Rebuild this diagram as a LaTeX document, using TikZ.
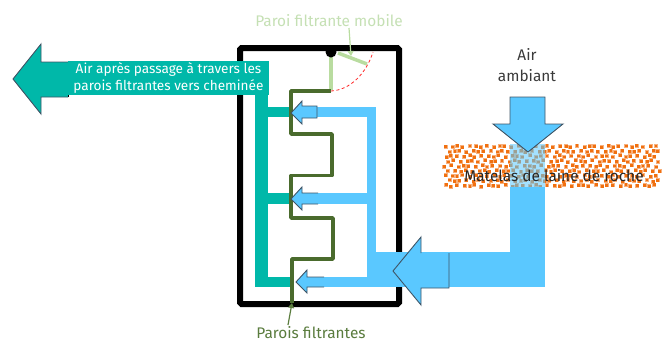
\documentclass[tikz,border=0pt]{standalone}
\usepackage{fontspec}
\setmainfont{Fira Sans}
\usetikzlibrary{arrows.meta}
\definecolor{tealc}{HTML}{00B8A9}
\definecolor{bluec}{HTML}{5AC8FF}
\definecolor{edgec}{HTML}{3F5566}
\definecolor{wallc}{HTML}{4A6B2D}
\definecolor{mobc}{HTML}{B9DCA0}
\definecolor{labg}{HTML}{C5E0B4}
\definecolor{labd}{HTML}{5A7C3E}
\definecolor{orangec}{HTML}{F07010}
\definecolor{textc}{HTML}{3A3A3A}
\tikzset{
  x=1pt,y=-1pt,
  txt/.style={font=\fontsize{15.4}{21}\selectfont,align=center,inner sep=0pt},
  flow/.style={fill=bluec,draw=none},
  tealflow/.style={fill=tealc,draw=none},
  edgeline/.style={draw=edgec,line width=0.9pt,line join=miter},
  wall/.style={draw=wallc,line width=3.4pt,line join=round},
  mob/.style={draw=mobc,line width=3.5pt},
}
\begin{document}
\begin{tikzpicture}
\useasboundingbox (0,0) rectangle (662,343);
% mattress
\foreach \r in {0,...,8}{
  \pgfmathsetmacro{\yy}{146.5+\r*4.9}
  \pgfmathsetmacro{\off}{mod(\r,2)*3}
  \foreach \c in {0,...,35}{
    \pgfmathsetmacro{\xx}{445.5+\off+\c*6+1.2*sin(\c*97+\r*61)}
    \pgfmathsetmacro{\yj}{\yy+0.9*sin(\c*143+\r*37)}
    \fill[orangec!55!white] (\xx-2,\yj-2) rectangle (\xx+2,\yj+2);
    \fill[orangec] (\xx-1.4,\yj-1.4) rectangle (\xx+1.4,\yj+1.4);
  }
}
% box
\node[draw=black,line width=6pt,rounded corners=1.5pt,minimum width=159pt,minimum height=256pt,inner sep=0pt,outer sep=0pt] (box) at (319.5,176) {};
% teal channels
\fill[tealflow] (255,95) rectangle (268,287);
\fill[tealflow] (268,107) rectangle (291,117);
\fill[tealflow] (268,193) rectangle (291,204);
\fill[tealflow] (268,277) rectangle (292,287);
% blue channels
\fill[flow] (317,107) rectangle (376,117);
\fill[flow] (318,193) rectangle (367,204);
\fill[flow] (367,107) rectangle (376,287);
\fill[flow] (324,277) rectangle (400,287);
\fill[flow] (376,252) rectangle (545,287);
\fill[flow] (510,187) rectangle (545,287);
\fill[bluec,opacity=.55] (510,144) rectangle (545,187);
% top flow arrow
\fill[flow] (510,97) -- (545,97) -- (545,124) -- (563,124) -- (528,152) -- (493,124) -- (510,124) -- cycle;
\draw[edgeline] (510,124) -- (510,97) -- (545,97) -- (545,124) -- (563,124) -- (528,152) -- (493,124) -- cycle;
% walls
\draw[mob] (331,52) -- (331,90);
\draw[mob] (338,53) -- (367,64);
\draw[wall] (331,91) -- (291,91) -- (291,134) -- (332,134) -- (332,175.5) -- (291,175.5) -- (291,218) -- (333,218) -- (333,259) -- (292,259) -- (292,303);
\draw[red!80!pink,line width=.8pt,dash pattern=on 3pt off 2.5pt] (331,91) .. controls (350,90) and (366,74) .. (373,52);
\fill[black] (331,52) circle (5.5);
% small arrows
\fill[flow] (291,113) -- (302,101) -- (302,106) -- (317,106) -- (317,118) -- (302,118) -- (302,124) -- cycle;
\draw[edgeline] (302,106) -- (317,106) -- (317,118) -- (302,118) -- (302,124) -- (291,113) -- (302,101) -- cycle;
\fill[flow] (291,199) -- (302,187) -- (302,193) -- (318,193) -- (318,204) -- (302,204) -- (302,210) -- cycle;
\draw[edgeline] (318,193) -- (302,193) -- (302,187) -- (291,199) -- (302,210) -- (302,204) -- (318,204);
\fill[flow] (296,282) -- (307,270) -- (307,277) -- (324,277) -- (324,287) -- (307,287) -- (307,293) -- cycle;
\draw[edgeline] (324,277) -- (307,277) -- (307,270) -- (296,282) -- (307,293) -- (307,287) -- (324,287);
% big left arrow
\fill[flow] (393,271) -- (421,237) -- (421,253) -- (449,253) -- (449,288) -- (421,288) -- (421,305) -- cycle;
\draw[edgeline] (421,253) -- (421,237) -- (393,271) -- (421,305) -- (421,288) -- (449,288) -- (449,253);
% teal big arrow
\fill[tealflow] (13,79) -- (41,44) -- (41,62) -- (68,62) -- (68,97) -- (41,97) -- (41,114) -- cycle;
\draw[edgeline] (68,62) -- (41,62) -- (41,44) -- (13,79) -- (41,114) -- (41,97) -- (68,97);
\draw[black,line width=.8pt] (68,62) -- (68,97);
\node[fill=tealc,minimum width=201pt,minimum height=34pt,inner sep=0pt,text=white,align=center,font=\fontsize{13.6}{17.5}\selectfont] (out) at (168.5,78) {Air après passage à travers les\\parois filtrantes vers cheminée};
% labels
\node[txt,text=textc] (air) at (527,65) {Air\\ambiant};
\node[txt,text=black!85] (mat) at (554,176) {Matelas de laine de roche};
\node[txt,text=labg] (mobile) at (329,21) {Paroi filtrante mobile};
\node[txt,text=labd] (parois) at (311,333) {Parois filtrantes};
\coordinate (mobtip) at (351,56);
\coordinate (partip) at (292,303);
\draw[draw=mobc,line width=1.2pt,-{Triangle[length=5pt,width=6pt]}] (349,28) -- (mobtip);
\draw[draw=labd,line width=1.2pt,-{Triangle[length=5pt,width=6pt]}] (288,325) -- (partip);
\end{tikzpicture}
\end{document}
